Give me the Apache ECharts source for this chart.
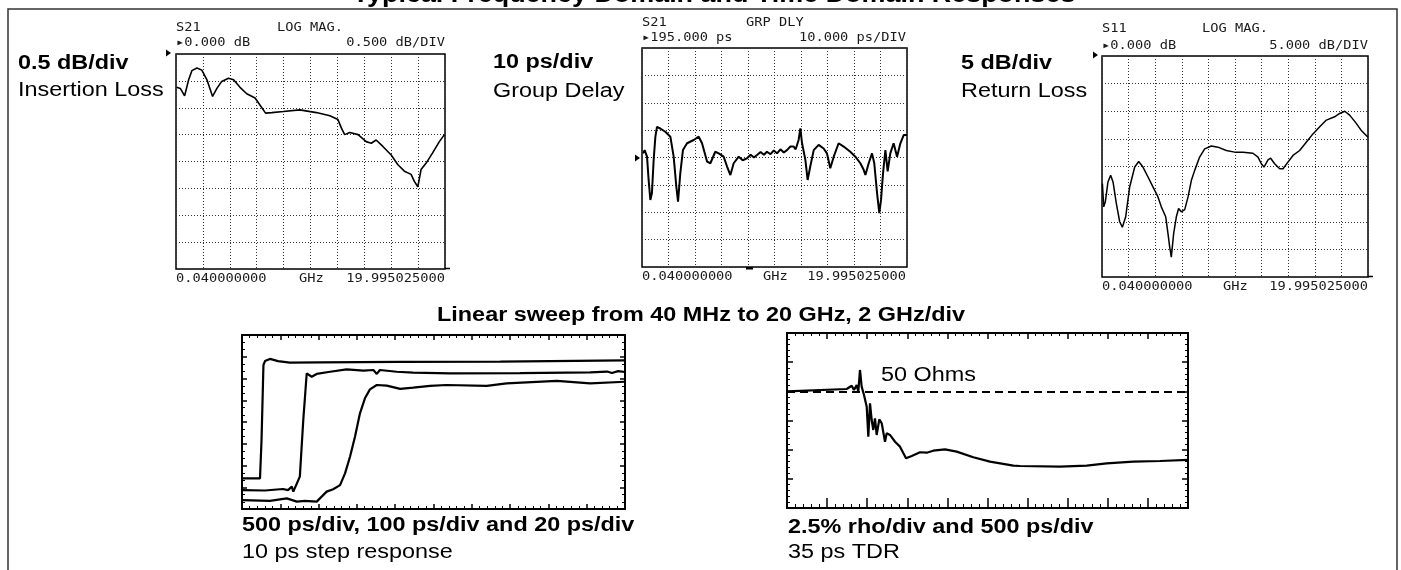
<!DOCTYPE html>
<html><head><meta charset="utf-8">
<script src="https://cdn.jsdelivr.net/npm/echarts@6/dist/echarts.min.js"></script>
<style>html,body{margin:0;padding:0;background:#fff}#c{width:1401px;height:570px}</style>
</head><body><div id="c"></div>
<script>
// ---------- Insertion loss (S21 LOG MAG, 0.5 dB/div) ----------
const IL_GHZ = [0.04,0.08,0.32,0.64,0.94,1.18,1.56,1.92,2.30,2.72,3.04,3.40,3.90,4.28,4.76,5.26,5.88,6.24,6.66,7.12,7.98,9.20,10.44,11.44,12.04,12.30,12.54,12.92,13.54,14.14,14.52,14.88,15.38,16.00,16.50,16.98,17.48,17.72,17.98,18.22,18.60,19.08,19.58,19.96];
const IL_DB  = [-0.62,-0.60,-0.64,-0.78,-0.48,-0.31,-0.26,-0.30,-0.48,-0.79,-0.64,-0.51,-0.45,-0.48,-0.62,-0.74,-0.82,-0.95,-1.10,-1.09,-1.07,-1.04,-1.09,-1.15,-1.22,-1.38,-1.50,-1.46,-1.50,-1.63,-1.66,-1.60,-1.72,-1.88,-2.06,-2.18,-2.24,-2.37,-2.47,-2.15,-2.03,-1.84,-1.63,-1.50];

// ---------- Group delay (S21 GRP DLY, ref 195 ps, 10 ps/div) ----------
const GD_REF_PS = 195;
const GD_GHZ = [0.08,0.20,0.38,0.50,0.63,0.75,0.88,1.01,1.13,1.38,1.76,2.14,2.39,2.59,2.72,2.89,3.09,3.40,3.90,4.28,4.53,4.91,5.16,5.53,5.79,6.16,6.42,6.67,6.92,7.30,7.60,7.92,8.20,8.45,8.68,8.95,9.20,9.43,9.70,9.95,10.19,10.45,10.70,10.94,11.20,11.45,11.60,11.82,11.95,12.08,12.33,12.50,12.70,12.96,13.33,13.71,13.96,14.21,14.47,14.84,15.22,15.72,16.10,16.48,16.73,16.86,17.11,17.36,17.53,17.74,17.91,18.04,18.19,18.37,18.54,18.74,18.99,19.25,19.50,19.75,20.0];
const GD_PS  = [196.5,197.7,195.3,186.8,179.5,182.0,194.1,202.6,206.2,205.6,204.4,202.6,195.3,184.4,178.9,189.2,197.7,200.2,201.4,202.6,200.2,193.5,192.9,197.1,196.5,195.3,191.7,188.6,192.9,195.3,194.0,194.7,196.0,195.0,195.9,197.0,196.0,197.1,196.2,197.6,196.5,198.0,196.8,197.7,199.0,199.0,198.0,201.4,205.6,200.2,194.1,186.8,191.7,197.7,199.6,198.3,196.5,191.1,195.3,200.2,199.0,197.1,195.3,192.9,190.5,188.6,192.9,196.5,192.9,182.0,174.7,179.5,189.2,197.7,189.9,196.5,200.2,195.3,200.2,203.2,203.2];

// ---------- Return loss (S11 LOG MAG, 5 dB/div) ----------
const RL_GHZ = [0.03,0.13,0.25,0.45,0.65,0.83,1.08,1.33,1.53,1.78,2.08,2.46,2.76,3.08,3.46,3.83,4.21,4.46,4.79,4.96,5.09,5.21,5.39,5.59,5.76,5.96,6.22,6.47,6.72,6.97,7.34,7.72,8.22,8.72,9.35,9.97,10.60,11.35,11.73,11.98,12.18,12.48,12.68,12.98,13.36,13.61,13.98,14.36,14.86,15.36,15.86,16.37,16.87,17.49,17.87,18.25,18.62,19.12,19.50,20.0];
const RL_DB  = [-23.1,-27.3,-26.4,-22.8,-21.6,-22.8,-26.7,-30.0,-31.0,-29.1,-23.7,-20.1,-19.1,-20.1,-21.9,-23.7,-25.5,-27.3,-29.1,-32.1,-34.6,-36.4,-32.1,-29.1,-27.6,-28.2,-27.8,-25.5,-22.5,-20.7,-18.3,-16.8,-16.3,-16.5,-17.1,-17.4,-17.4,-17.6,-18.3,-19.5,-20.1,-18.8,-18.5,-19.5,-20.4,-20.4,-19.2,-18.0,-17.1,-15.6,-14.1,-12.8,-11.6,-11.0,-10.4,-10.0,-10.7,-12.2,-13.5,-14.7];

// ---------- Step responses (x and y in screen divisions) ----------
const STEP500_DIV_X = [0,0.47,0.51,0.56,0.60,0.73,0.94,1.25,2.04,4.13,6.74,10];
const STEP500_DIV_Y = [1.41,1.41,3.17,6.62,6.80,6.90,6.80,6.73,6.74,6.76,6.78,6.83];
const STEP100_DIV_X = [0,0.60,1.07,1.20,1.30,1.34,1.47,1.51,1.60,1.69,1.73,1.82,1.95,2.30,2.73,3.17,3.43,3.52,3.60,4.04,4.47,5.43,7.26,9.09,9.53,9.66,9.82,10];
const STEP100_DIV_Y = [0.87,0.85,0.92,0.87,1.03,0.80,1.33,1.49,4.09,6.24,6.27,6.08,6.21,6.31,6.42,6.36,6.39,6.21,6.39,6.31,6.27,6.24,6.25,6.28,6.32,6.25,6.34,6.30];
const STEP20_DIV_X  = [0,0.73,1.17,1.43,1.64,1.95,2.08,2.21,2.38,2.56,2.69,2.82,2.95,3.08,3.21,3.34,3.52,3.78,4.13,4.47,4.91,5.34,6.39,6.91,8.22,9.09,10];
const STEP20_DIV_Y  = [0.41,0.37,0.49,0.34,0.37,0.34,0.57,0.80,0.91,1.10,1.64,2.40,3.32,4.40,5.09,5.50,5.70,5.67,5.52,5.58,5.66,5.70,5.66,5.78,5.89,5.78,5.85];

// ---------- TDR (500 ps/div, 2.5 % rho/div, 0 = 50 Ohms) ----------
const TDR_PS  = [0,744,807,835,869,889,910,931,960,994,1014,1035,1056,1076,1097,1118,1151,1181,1222,1243,1284,1347,1409,1484,1555,1658,1742,1824,1970,2116,2323,2531,2822,2905,3404,3737,3986,4318,4651,5000];
const TDR_RHO = [0,0.20,0.48,0.11,0.54,-0.03,1.83,0.40,-0.31,-1.32,-3.89,-1.03,-2.46,-3.31,-2.31,-3.74,-2.40,-2.74,-4.32,-3.60,-3.74,-4.32,-4.74,-5.74,-5.54,-5.22,-5.26,-5.09,-4.97,-5.17,-5.65,-6.03,-6.37,-6.40,-6.46,-6.37,-6.17,-6.03,-5.97,-5.88];
const Z0_RHO = 0;

function pairs(xs, ys, off) { return xs.map((x, i) => [x, ys[i] - (off || 0)]); }

const chart = echarts.init(document.getElementById('c'), null, {renderer: 'canvas'});

const dot = {show: true, lineStyle: {color: '#333', width: 1, type: [1, 2]}};
const gridBase = {show: true, borderColor: '#000', borderWidth: 1.5, backgroundColor: 'transparent', containLabel: false, outerBoundsMode: 'none'};
const gridLow = Object.assign({}, gridBase, {borderWidth: 2});

function vnaX(g) {
  return {type: 'value', gridIndex: g, min: 0, max: 20, interval: 2,
    axisLine: {show: false, onZero: false}, axisTick: {show: false}, axisLabel: {show: false}, splitLine: dot};
}
function vnaY(g, min, max, interval) {
  return {type: 'value', gridIndex: g, min, max, interval,
    axisLine: {show: false, onZero: false}, axisTick: {show: false}, axisLabel: {show: false}, splitLine: dot};
}
function tickAxis(g, pos, min, max, interval, majLen, minLen, minSplit) {
  return {type: 'value', gridIndex: g, position: pos, min, max, interval,
    axisLine: {show: false, onZero: false}, axisLabel: {show: false}, splitLine: {show: false},
    axisTick: {show: true, inside: true, length: majLen, lineStyle: {color: '#000', width: 1.5}},
    minorTick: {show: true, splitNumber: minSplit, length: minLen, lineStyle: {color: '#000', width: 1}}};
}
function trace(xi, yi, data, w) {
  return {type: 'line', xAxisIndex: xi, yAxisIndex: yi, data, showSymbol: false, symbol: 'none',
    lineStyle: {color: '#000', width: w}, silent: true, z: 5};
}

const MONO = '12px "DejaVu Sans Mono"';
const SANS = '20px "Liberation Sans", Arial, sans-serif';
const SANSB = 'bold 20px "Liberation Sans", Arial, sans-serif';
function T(text, x, y, font, align, sx, fill) {
  return {type: 'text', x, y, scaleX: sx, z: 100,
    style: {text, font, fill: fill || '#000', align: align || 'left', textAlign: align || 'left',
      verticalAlign: 'middle', textVerticalAlign: 'middle'}};
}
const M = (t, x, y, a) => T(t, x, y, MONO, a, 1.14, '#1a1a1a');
const L = (t, x, y, a) => T(t, x, y, SANS, a, 1.17);
const B = (t, x, y, a) => T(t, x, y, SANSB, a, 1.17);
function tri(x, y) {
  return {type: 'polygon', z: 100, shape: {points: [[x - 5, y - 3.5], [x, y], [x - 5, y + 3.5]]}, style: {fill: '#000'}};
}
function seg(x1, y1, x2, y2, w) {
  return {type: 'line', z: 100, shape: {x1, y1, x2, y2}, style: {stroke: '#000', lineWidth: w || 1.5}};
}

const option = {
  animation: false,
  backgroundColor: '#fff',
  grid: [
    Object.assign({left: 176, top: 54, width: 269, height: 215}, gridBase),
    Object.assign({left: 642, top: 48, width: 265, height: 219}, gridBase),
    Object.assign({left: 1102, top: 56, width: 266, height: 221}, gridBase),
    Object.assign({left: 242, top: 335, width: 383, height: 174}, gridLow),
    Object.assign({left: 787, top: 333, width: 401, height: 175}, gridLow)
  ],
  xAxis: [
    vnaX(0), vnaX(1), vnaX(2),
    tickAxis(3, 'bottom', 0, 10, 1, 5, 3, 5),
    tickAxis(3, 'top', 0, 10, 1, 5, 3, 5),
    tickAxis(4, 'bottom', 0, 5000, 500, 10, 4, 5),
    tickAxis(4, 'top', 0, 5000, 500, 6, 3, 5)
  ],
  yAxis: [
    vnaY(0, -4, 0, 0.5), vnaY(1, -40, 40, 10), vnaY(2, -40, 0, 5),
    tickAxis(3, 'left', 0, 8, 1, 5, 3, 3),
    tickAxis(3, 'right', 0, 8, 1, 5, 3, 3),
    tickAxis(4, 'left', -10, 5, 2.5, 6, 3, 5),
    tickAxis(4, 'right', -10, 5, 2.5, 6, 3, 5)
  ],
  series: [
    trace(0, 0, pairs(IL_GHZ, IL_DB), 1.6),
    trace(1, 1, pairs(GD_GHZ, GD_PS, GD_REF_PS), 2),
    trace(2, 2, pairs(RL_GHZ, RL_DB), 1.5),
    trace(3, 3, pairs(STEP500_DIV_X, STEP500_DIV_Y), 2.2),
    trace(3, 3, pairs(STEP100_DIV_X, STEP100_DIV_Y), 2.2),
    trace(3, 3, pairs(STEP20_DIV_X, STEP20_DIV_Y), 2.2),
    Object.assign(trace(5, 5, pairs(TDR_PS, TDR_RHO), 2.2), {
      markLine: {silent: true, symbol: 'none', animation: false, label: {show: false},
        lineStyle: {color: '#000', width: 2, type: [8, 5]},
        data: [{yAxis: Z0_RHO}]}
    })
  ],
  graphic: [
    {type: 'polyline', z: 90, shape: {points: [[8, 570], [8, 9], [1397, 9], [1397, 570]]}, style: {stroke: '#333', lineWidth: 1.5, fill: null}},
    T('Typical Frequency Domain and Time Domain Responses', 714, -4, 'bold 23px "Liberation Sans", Arial, sans-serif', 'center', 1.17),
    // panel 1
    M('S21', 176, 28), M('LOG MAG.', 277, 28), M('▸0.000 dB', 176, 43), M('0.500 dB/DIV', 445, 43, 'right'),
    M('0.040000000', 176, 279), M('GHz', 299, 279), M('19.995025000', 445, 279, 'right'),
    tri(171, 53), seg(445, 268.5, 450, 268.5),
    B('0.5 dB/div', 18, 63), L('Insertion Loss', 18, 90),
    // panel 2
    M('S21', 642, 23), M('GRP DLY', 746, 23), M('▸195.000 ps', 642, 38), M('10.000 ps/DIV', 906, 38, 'right'),
    M('0.040000000', 642, 277), M('GHz', 763, 277), M('19.995025000', 906, 277, 'right'),
    tri(640, 158), {type: 'rect', z: 100, shape: {x: 746, y: 267, width: 7, height: 2.5}, style: {fill: '#000'}},
    B('10 ps/div', 493, 62), L('Group Delay', 493, 91),
    // panel 3
    M('S11', 1102, 29), M('LOG MAG.', 1202, 29), M('▸0.000 dB', 1102, 46), M('5.000 dB/DIV', 1368, 46, 'right'),
    M('0.040000000', 1102, 287), M('GHz', 1223, 287), M('19.995025000', 1368, 287, 'right'),
    tri(1098, 55), seg(1368, 276.5, 1373, 276.5),
    B('5 dB/div', 961, 63), L('Return Loss', 961, 91),
    // lower
    B('Linear sweep from 40 MHz to 20 GHz, 2 GHz/div', 701, 315, 'center'),
    B('500 ps/div, 100 ps/div and 20 ps/div', 242, 525), L('10 ps step response', 242, 552),
    B('2.5% rho/div and 500 ps/div', 788, 527), L('35 ps TDR', 788, 552),
    L('50 Ohms', 881, 375)
  ]
};
chart.setOption(option);
</script>
</body></html>
